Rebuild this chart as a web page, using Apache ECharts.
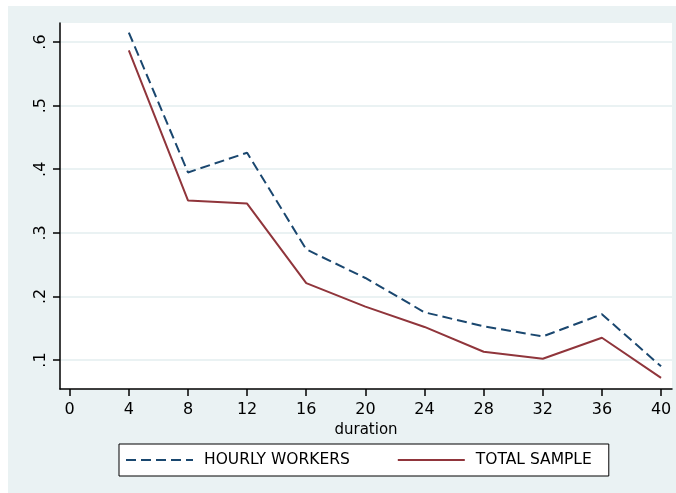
<!DOCTYPE html>
<html>
<head>
<meta charset="utf-8">
<script src="https://cdn.jsdelivr.net/npm/echarts@6/dist/echarts.min.js"></script>
<style>
  html, body { margin: 0; padding: 0; background: #ffffff; width: 676px; height: 493px; overflow: hidden; }
  #chart { position: absolute; left: 8px; top: 6px; width: 668px; height: 487px; }
</style>
</head>
<body>
<div id="chart"></div>
<script>
const durations = [4, 8, 12, 16, 20, 24, 28, 32, 36, 40];
const hourlyWorkers = [0.615, 0.395, 0.426, 0.274, 0.229, 0.175, 0.153, 0.137, 0.172, 0.090];
const totalSample = [0.587, 0.351, 0.346, 0.221, 0.184, 0.152, 0.113, 0.102, 0.135, 0.072];
const xTicks = [0, 4, 8, 12, 16, 20, 24, 28, 32, 36, 40];
const yTicks = [0.1, 0.2, 0.3, 0.4, 0.5, 0.6];
const seriesNames = ['HOURLY WORKERS', 'TOTAL SAMPLE'];
const xAxisName = 'duration';

const FONT = 'DejaVu Sans';
const chart = echarts.init(document.getElementById('chart'), null, { renderer: 'canvas' });

chart.setOption({
  backgroundColor: '#eaf2f3',
  animation: false,
  textStyle: { fontFamily: FONT },
  grid: {
    left: 52, top: 17, right: 4, bottom: 104,
    show: true, backgroundColor: '#ffffff', borderWidth: 0
  },
  xAxis: {
    type: 'value',
    min: -0.656, max: 40.74,
    name: xAxisName,
    nameLocation: 'middle',
    nameGap: 21,
    nameTextStyle: { fontFamily: FONT, fontSize: 15, color: '#000' },
    axisLine: { onZero: false, lineStyle: { color: '#000', width: 1.5 } },
    axisTick: { show: true, length: 7, inside: false, customValues: xTicks, lineStyle: { color: '#000', width: 1.5 } },
    axisLabel: { customValues: xTicks, margin: 13, fontFamily: FONT, fontSize: 16, color: '#000' },
    splitLine: { show: false }
  },
  yAxis: {
    type: 'value',
    min: 0.0544, max: 0.63,
    axisLine: { show: true, onZero: false, lineStyle: { color: '#000', width: 1.5 } },
    axisTick: { show: true, length: 7, inside: false, customValues: yTicks, lineStyle: { color: '#000', width: 1.5 } },
    axisLabel: {
      customValues: yTicks, rotate: 90, margin: 11, fontFamily: FONT, fontSize: 16, color: '#000',
      formatter: v => '.' + Math.round(v * 10)
    },
    splitLine: { show: true, lineStyle: { color: '#eaf2f3', width: 2 } }
  },
  legend: {
    left: 111, top: 438,
    orient: 'horizontal',
    backgroundColor: '#ffffff',
    borderColor: '#000', borderWidth: 1, borderRadius: 0,
    padding: [8, 17, 8, 6],
    itemWidth: 67, itemHeight: 14, itemGap: 47,
    itemStyle: { color: 'rgba(0,0,0,0)', borderWidth: 0, opacity: 0 },
    textStyle: { fontFamily: FONT, fontSize: 15.5, color: '#000', padding: [0, 0, 0, 6] },
    data: seriesNames
  },
  series: [
    {
      name: seriesNames[0], type: 'line', symbol: 'none',
      data: durations.map((d, i) => [d, hourlyWorkers[i]]),
      lineStyle: { color: '#1a476f', width: 2, type: [10, 5] },
      itemStyle: { color: '#1a476f' }
    },
    {
      name: seriesNames[1], type: 'line', symbol: 'none',
      data: durations.map((d, i) => [d, totalSample[i]]),
      lineStyle: { color: '#90353b', width: 2, type: 'solid' },
      itemStyle: { color: '#90353b' }
    }
  ]
});
</script>
</body>
</html>
